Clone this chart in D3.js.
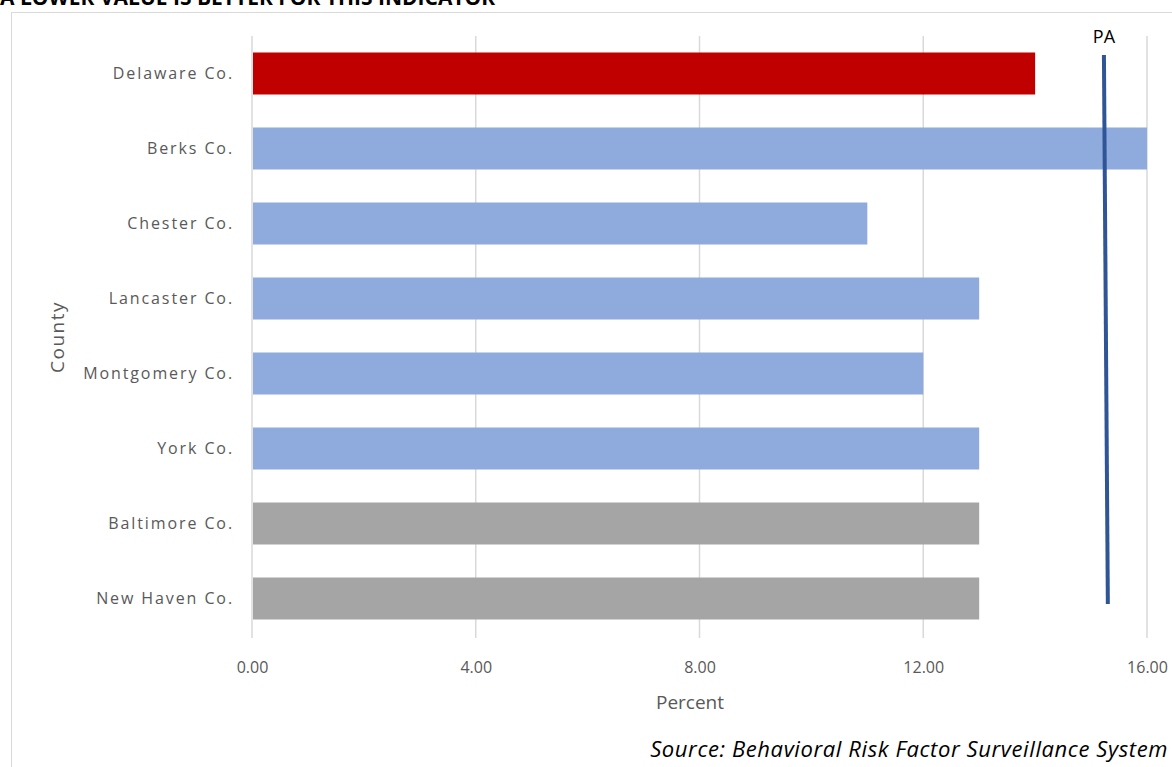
<!DOCTYPE html>
<html><head><meta charset="utf-8">
<script src="https://cdn.jsdelivr.net/npm/d3@7"></script>
<style>body{margin:0;background:#fff;}svg{display:block;font-family:"Open Sans",Lato,sans-serif;}</style>
</head><body>
<svg id="c" width="1172" height="767"></svg>
<script>
const categories = ["Delaware Co.","Berks Co.","Chester Co.","Lancaster Co.","Montgomery Co.","York Co.","Baltimore Co.","New Haven Co."];
const values = [14,16,11,13,12,13,13,13];
const groups = ["focus","pa","pa","pa","pa","pa","other","other"];
const paLine = [15.23, 15.3]; // PA reference (top, bottom)
const tickValues = [0,4,8,12,16];
const colors = {focus:"#c00000", pa:"#8faadc", other:"#a5a5a5"};
const FONT = "'Open Sans',Lato,sans-serif";

const svg = d3.select("#c");
const x = d3.scaleLinear().domain([0,16]).range([252,1147]);
const y = d3.scaleBand().domain(categories).range([36,636]).paddingInner(0.44).paddingOuter(0.22);

// title (clipped at top as in the reference)
svg.append("text").attr("x",0).attr("y",5).attr("font-weight","bold").attr("font-size",21).attr("fill","#000")
  .text("A LOWER VALUE IS BETTER FOR THIS INDICATOR");
// border
svg.append("rect").attr("x",11.5).attr("y",12.5).attr("width",1180).attr("height",800).attr("fill","none").attr("stroke","#d9d9d9");

// grid
svg.append("g").selectAll("line").data(tickValues).join("line")
  .attr("x1",d=>x(d)).attr("x2",d=>x(d)).attr("y1",36).attr("y2",638)
  .attr("stroke","#d9d9d9").attr("stroke-width",1.5);

// bars
svg.append("g").selectAll("rect").data(categories).join("rect")
  .attr("x",x(0)+1).attr("y",d=>y(d)).attr("height",y.bandwidth())
  .attr("width",(d,i)=>x(values[i])-x(0)-1).attr("fill",(d,i)=>colors[groups[i]]);

// x axis labels
const xa = svg.append("g").attr("transform","translate(0,638)")
  .call(d3.axisBottom(x).tickValues(tickValues).tickSize(0).tickFormat(d3.format(".2f")));
xa.select(".domain").remove();
xa.selectAll("text").attr("font-size",16).attr("fill","#595959").attr("dy",0).attr("y",35).style("font-family",FONT);

// y axis labels
const ya = svg.append("g").attr("transform","translate(232,0)")
  .call(d3.axisLeft(y).tickSize(0));
ya.select(".domain").remove();
ya.selectAll("text").attr("font-size",16).attr("fill","#595959").attr("x",2).attr("letter-spacing",1.9).style("font-family",FONT);

// PA line
svg.append("line").attr("x1",x(paLine[0])).attr("x2",x(paLine[1])).attr("y1",55).attr("y2",604)
  .attr("stroke","#2f5597").attr("stroke-width",4);
svg.append("text").attr("x",x(paLine[0])).attr("y",43).attr("text-anchor","middle").attr("font-size",18).attr("fill","#000").text("PA");

// axis titles
svg.append("text").attr("x",690).attr("y",709).attr("text-anchor","middle").attr("font-size",19).attr("fill","#595959").text("Percent");
svg.append("text").attr("transform","translate(64,337) rotate(-90)").attr("text-anchor","middle").attr("font-size",19).attr("letter-spacing",1.5).attr("fill","#595959").text("County");

// source
svg.append("text").attr("x",1168).attr("y",757).attr("text-anchor","end").attr("font-size",22).attr("letter-spacing",0.6).attr("font-style","italic").attr("fill","#000")
  .text("Source: Behavioral Risk Factor Surveillance System");
</script>
</body></html>
